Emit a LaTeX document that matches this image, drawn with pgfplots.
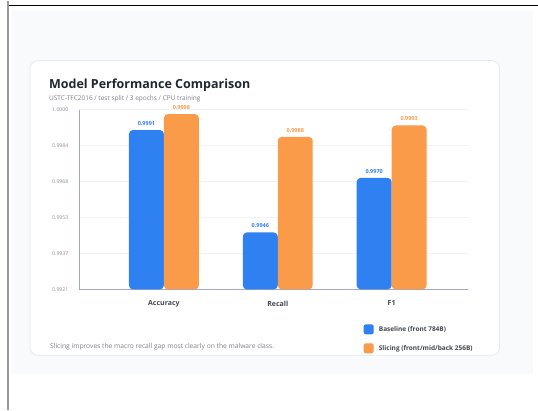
\documentclass[border=0pt]{standalone}
\usepackage{pgfplots}
\pgfplotsset{compat=1.18}
\usepackage{fontspec}
\setmainfont{Open Sans}
\definecolor{cblue}{HTML}{2F80F0}
\definecolor{corange}{HTML}{F99B48}
\definecolor{bgc}{HTML}{F8FAFC}
\definecolor{cardb}{HTML}{E6EBF0}
\definecolor{axc}{HTML}{A5A7C7}
\definecolor{tickc}{HTML}{8C9099}
\definecolor{titlec}{HTML}{1F2633}
\definecolor{gridc}{HTML}{F1F2F5}
\begin{document}
\begin{tikzpicture}[x=1pt,y=1pt]
\fill[white] (0,0) rectangle (538,410);
\fill[bgc] (12,36) rectangle (533,400);
\draw[rounded corners=8pt, fill=white, draw=cardb, line width=0.8pt] (30,55) rectangle (500,350);
\draw[black, line width=0.9pt] (8,405) -- (538,405);
\draw[gray!80, line width=1.3pt] (8,0) -- (8,410);
\node[anchor=base west, font=\fontsize{12.5}{14}\selectfont\bfseries, text=titlec, inner sep=0] at (49,322) {Model Performance Comparison};
\node[anchor=base west, font=\fontsize{6.5}{8}\selectfont, text=tickc!90!black, inner sep=0] at (49,310) {USTC-TFC2016 / test split / 3 epochs / CPU training};
\begin{axis}[
  at={(79pt,121pt)}, anchor=south west,
  scale only axis, width=389pt, height=180pt,
  xmin=-0.746, xmax=2.667,
  ymin=0.9921, ymax=1.0000,
  y coord trafo/.code={\pgfmathparse{#1-0.9921}},
  y coord inv trafo/.code={\pgfmathparse{#1+0.9921}},
  scaled y ticks=false,
  axis x line*=bottom, axis y line*=left,
  axis line style={draw=axc, line width=0.8pt},
  major tick length=0pt,
  xtick={0,1,2}, xticklabels={Accuracy,Recall,F1},
  xticklabel style={font=\fontsize{7}{8}\selectfont\bfseries, text=titlec!85, yshift=-8pt},
  ytick={0.9921,0.99368,0.99526,0.99684,0.99842,1.0},
  yticklabels={0.9921,0.9937,0.9953,0.9968,0.9984,1.0000},
  yticklabel style={font=\fontsize{5.2}{6}\selectfont, text=tickc, xshift=-7pt},
  ymajorgrids, grid style={draw=gridc, line width=0.6pt},
  ybar, bar width=35pt,
  point meta=explicit symbolic,
  nodes near coords,
  every node near coord/.append style={font=\fontsize{5.5}{6}\selectfont\bfseries, yshift=1pt},
  clip=true,
]
\addplot[fill=cblue, draw=none, rounded corners=4pt, bar shift=-17.5pt,
  every node near coord/.append style={text=cblue}]
  coordinates {(0,0.9991) [0.9991] (1,0.9946) [0.9946] (2,0.9970) [0.9970]};
\addplot[fill=corange, draw=none, rounded corners=4pt, bar shift=17.5pt,
  every node near coord/.append style={text=corange}]
  coordinates {(0,0.9998) [0.9998] (1,0.9988) [0.9988] (2,0.9993) [0.9993]};
\end{axis}
\node[anchor=west, font=\fontsize{6.7}{8}\selectfont, text=tickc!90!black, inner sep=0] at (50,64) {Slicing improves the macro recall gap most clearly on the malware class.};
\fill[cblue, rounded corners=2pt] (364,76) rectangle (374,86);
\node[anchor=west, font=\fontsize{6.5}{8}\selectfont\bfseries, text=titlec!85, inner sep=0] at (379,81) {Baseline (front 784B)};
\fill[corange, rounded corners=2pt] (364,57) rectangle (374,67);
\node[anchor=west, font=\fontsize{6.5}{8}\selectfont\bfseries, text=titlec!85, inner sep=0] at (379,62) {Slicing (front/mid/back 256B)};
\end{tikzpicture}
\end{document}
